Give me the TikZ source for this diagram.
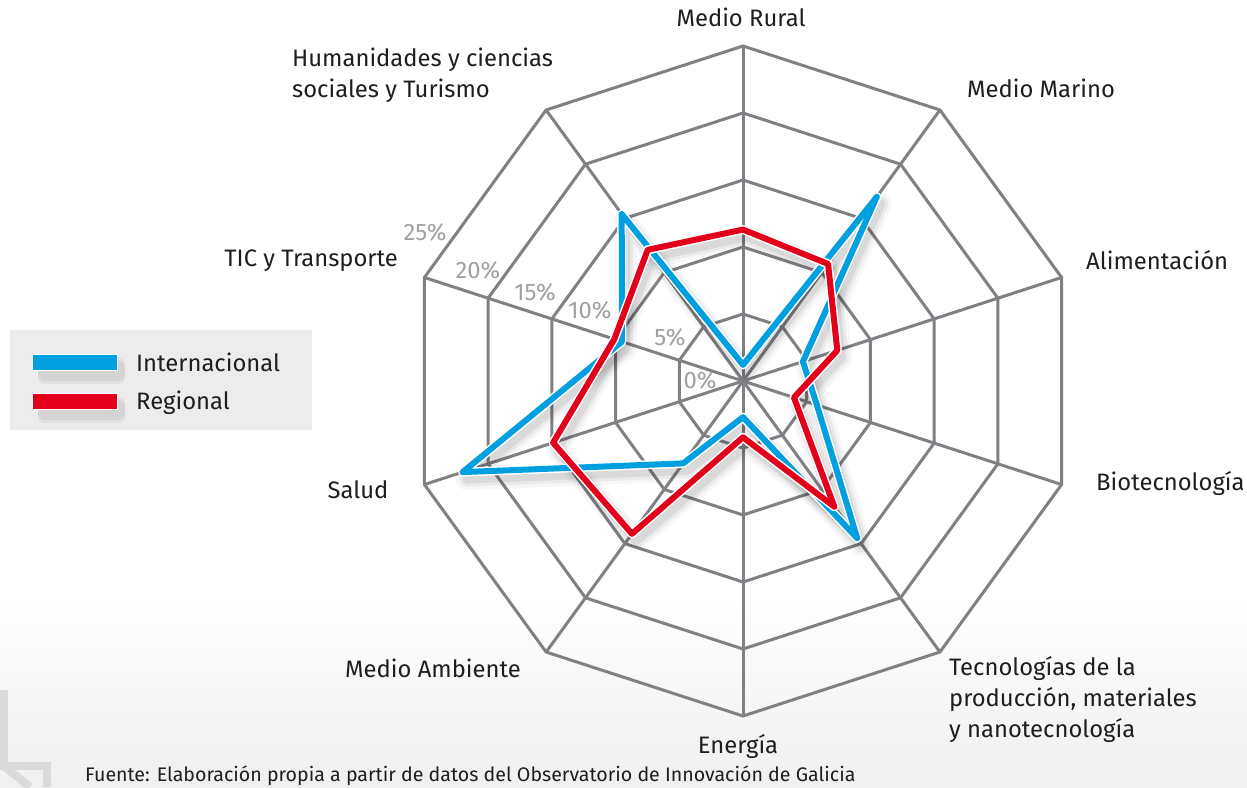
\documentclass[tikz,border=0pt]{standalone}
\usepackage{fontspec}
\setmainfont{Fira Sans}
\usetikzlibrary{positioning}

\definecolor{webgray}{RGB}{128,128,133}
\definecolor{intlblue}{RGB}{0,160,224}
\definecolor{reglred}{RGB}{226,0,26}
\definecolor{pctgray}{RGB}{160,160,165}
\definecolor{legendbg}{RGB}{236,236,236}
\definecolor{decogray}{RGB}{218,218,218}
\definecolor{labtext}{RGB}{30,30,30}

\tikzset{
  webline/.style={webgray, line width=3pt, line join=miter},
  catlabel/.style={font=\fontsize{23.8}{31}\selectfont, text=labtext, inner sep=0pt},
  pctlabel/.style={font=\fontsize{23.8}{31}\selectfont, text=pctgray, inner sep=0pt},
  serieline/.style={line width=6pt, line join=round},
  seriehalo/.style={white, line width=9pt, line join=round},
  serieshadow/.style={black, line join=round, transform canvas={shift={(4pt,-7pt)}}},
  legbar/.style={draw=white, line width=1pt, minimum width=85pt, minimum height=16pt, inner sep=0pt}
}

\begin{document}
\begin{tikzpicture}[x=1pt, y=-1pt]

  \useasboundingbox (0,0) rectangle (1247,787);

  % background
  \fill[white] (0,0) rectangle (1247,787);
  \shade[top color=white, bottom color=black!6] (0,590) rectangle (1247,787);

  % corner mark
  \draw[decogray, line width=8pt] (4,690) -- (4,766) -- (47,766) -- (47,787);
  \draw[decogray, line width=8pt] (4,766) -- (30,787);

  \begin{scope}[shift={(743,381)}, yscale=-1]
    % web
    \foreach \k in {1,...,5}
      \draw[webline] (90:\k*67) \foreach \a in {1,...,9}{ -- ({90-36*\a}:\k*67)} -- cycle;
    \foreach \a in {0,...,9}
      \draw[webline] (0,0) -- ({90-36*\a}:335);

    % data points (percent, 13.4pt per %)
    \foreach \v [count=\i from 0] in {1.2,17.0,4.7,5.8,14.5,2.7,7.6,22.0,9.5,15.4}
      \coordinate (b\i) at ({90-36*\i}:\v*13.4);
    \foreach \v [count=\i from 0] in {11.3,10.8,7.4,4.0,11.6,4.2,14.1,14.9,10.1,12.1}
      \coordinate (r\i) at ({90-36*\i}:\v*13.4);
  \end{scope}

  % percent labels
  \node[pctlabel] (p25) at (425,232) {25\%};
  \node[pctlabel] (p20) at (478,270) {20\%};
  \node[pctlabel] (p15) at (535,292) {15\%};
  \node[pctlabel] (p10) at (590,310) {10\%};
  \node[pctlabel] (p05) at (670,337) {5\%};
  \node[pctlabel] (p00) at (700,380) {0\%};

  % shadows
  \foreach \w/\o in {22/0.03,15/0.05,9/0.07} {
    \draw[serieshadow, line width=\w pt, opacity=\o] (b0) \foreach \i in {1,...,9}{ -- (b\i)} -- cycle;
    \draw[serieshadow, line width=\w pt, opacity=\o] (r0) \foreach \i in {1,...,9}{ -- (r\i)} -- cycle;
  }

  % series
  \draw[seriehalo] (b0) \foreach \i in {1,...,9}{ -- (b\i)} -- cycle;
  \draw[serieline, intlblue] (b0) \foreach \i in {1,...,9}{ -- (b\i)} -- cycle;
  \draw[seriehalo] (r0) \foreach \i in {1,...,9}{ -- (r\i)} -- cycle;
  \draw[serieline, reglred] (r0) \foreach \i in {1,...,9}{ -- (r\i)} -- cycle;

  % category labels
  \node[catlabel, anchor=base] (cRural) at (741,27) {Medio Rural};
  \node[catlabel, anchor=base] (cMarino) at (1041,97) {Medio Marino};
  \node[catlabel, anchor=base west] (cAlim) at (1086,269) {Alimentación};
  \node[catlabel, anchor=base west] (cBio) at (1096,490) {Biotecnología};
  \node[catlabel, anchor=north west, align=left] (cTec) at (949,656)
    {Tecnologías de la\\producción, materiales\\y nanotecnología};
  \node[catlabel, anchor=base] (cEnergia) at (738,753) {Energía};
  \node[catlabel, anchor=base] (cAmbiente) at (433,677) {Medio Ambiente};
  \node[catlabel, anchor=base] (cSalud) at (358,498) {Salud};
  \node[catlabel, anchor=base east] (cTIC) at (398,266) {TIC y Transporte};
  \node[catlabel, anchor=north west, align=left] (cHuman) at (292,48)
    {Humanidades y ciencias\\sociales y Turismo};

  % legend
  \fill[legendbg] (10,330) rectangle (312,430);
  \foreach \y in {362,401}
    \foreach \w/\o in {16/0.04,10/0.06}
      \fill[black, opacity=\o, rounded corners=6pt] (38,\y+4-\w/2) rectangle (125,\y+14+\w/2);
  \node[legbar, fill=intlblue] (kIntl) at (75,362) {};
  \node[legbar, fill=reglred] (kRegl) at (75,401) {};
  \node[catlabel, anchor=west, right=18pt of kIntl] (tIntl) {Internacional};
  \node[catlabel, anchor=west, right=18pt of kRegl, yshift=-2pt] (tRegl) {Regional};

  % source
  \node[catlabel, font=\fontsize{19.6}{22}\selectfont, anchor=base west] (fuente) at (85,781)
    {Fuente: Elaboración propia a partir de datos del Observatorio de Innovación de Galicia};

\end{tikzpicture}
\end{document}
